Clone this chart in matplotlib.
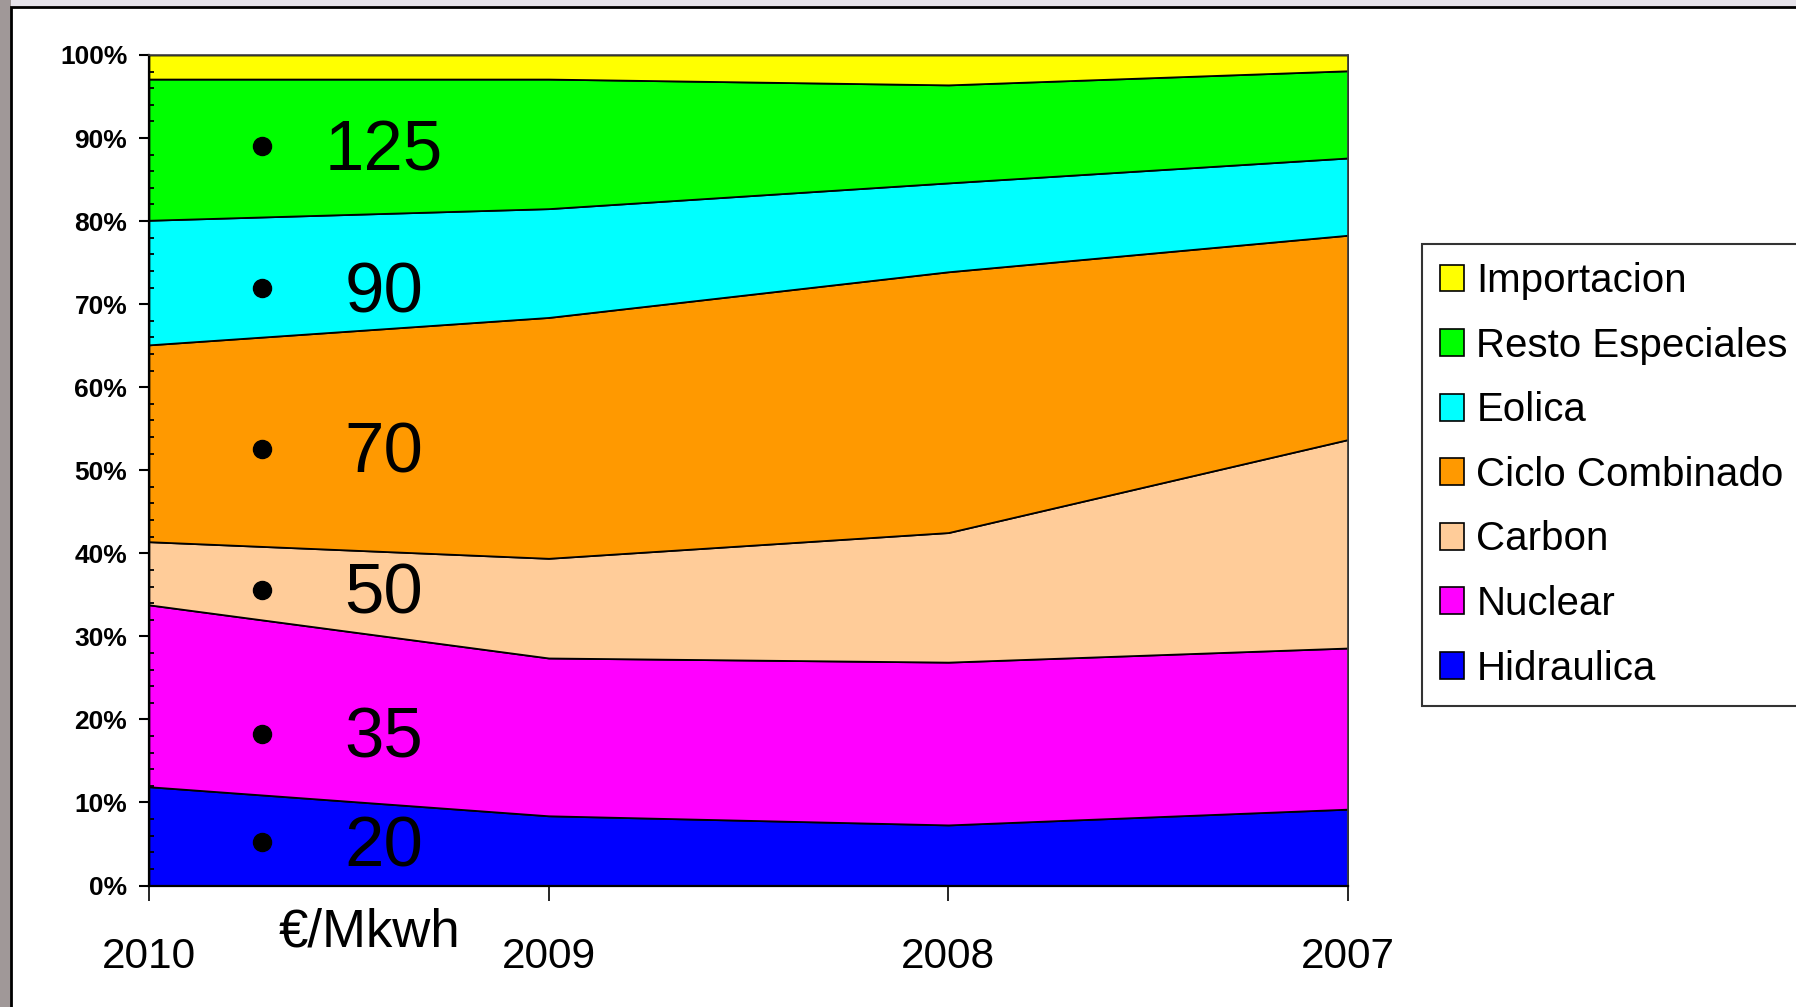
import matplotlib
matplotlib.use("Agg")
import matplotlib.pyplot as plt
from matplotlib.patches import Rectangle
from matplotlib.ticker import MultipleLocator, FuncFormatter

plt.rcParams['font.family'] = ['Liberation Sans', 'DejaVu Sans']

years = ['2010', '2009', '2008', '2007']
series_names = ['Hidraulica', 'Nuclear', 'Carbon', 'Ciclo Combinado',
                'Eolica', 'Resto Especiales', 'Importacion']
hidraulica = [11.9, 8.4, 7.3, 9.2]
nuclear = [21.9, 19.0, 19.6, 19.4]
carbon = [7.6, 12.0, 15.6, 25.1]
ciclo = [23.7, 29.0, 31.4, 24.6]
eolica = [15.0, 13.1, 10.7, 9.3]
resto = [17.0, 15.6, 11.8, 10.5]
importacion = [2.9, 2.9, 3.6, 1.9]
colors = ['#0000FF', '#FF00FF', '#FFCC99', '#FF9900', '#00FFFF', '#00FF00', '#FFFF00']

price_labels = ['125', '90', '70', '50', '35', '20']
price_ypos = [0.883, 0.712, 0.519, 0.349, 0.176, 0.045]
bullet_ypos = [0.89, 0.719, 0.526, 0.356, 0.183, 0.052]

W, H = 1796, 1007
fig = plt.figure(figsize=(W / 100, H / 100), dpi=100)
fig.patch.set_facecolor('#e6e3ea')
fig.patches.append(Rectangle((0, 0), 0.0064, 1, transform=fig.transFigure,
                             facecolor='#a09898', edgecolor='none', zorder=-10))
fig.patches.append(Rectangle((0.0064, -0.01), 1.0, 0.993 + 0.01, transform=fig.transFigure,
                             facecolor='white', edgecolor='black', linewidth=2, zorder=-10))

ax = fig.add_axes([0.0829, 0.1206, 0.6677, 0.8248])
x = list(range(len(years)))
data = [hidraulica, nuclear, carbon, ciclo, eolica, resto, importacion]
polys = ax.stackplot(x, *data, colors=colors, labels=series_names,
                     edgecolor='black', linewidth=1.3)
ax.set_xlim(0, len(years) - 1)
ax.set_ylim(0, 100)
ax.set_facecolor('white')

for s in ['top', 'right']:
    ax.spines[s].set_color('#404040')
    ax.spines[s].set_linewidth(1.2)
for s in ['left', 'bottom']:
    ax.spines[s].set_color('black')
    ax.spines[s].set_linewidth(1.6)

ax.yaxis.set_major_locator(MultipleLocator(10))
ax.yaxis.set_minor_locator(MultipleLocator(2))
ax.yaxis.set_major_formatter(FuncFormatter(lambda v, p: f"{int(round(v))}%"))
ax.tick_params(axis='y', which='major', direction='out', length=7.5, width=1.5,
               labelsize=19, pad=8)
ax.tick_params(axis='y', which='minor', direction='in', length=3.8, width=1.3)
for lbl in ax.get_yticklabels():
    lbl.set_fontweight('bold')

ax.set_xticks(x)
ax.set_xticklabels(years)
ax.tick_params(axis='x', which='major', direction='out', length=11, width=1.2,
               labelsize=30.5, pad=26)

for lab, yp, yb in zip(price_labels, price_ypos, bullet_ypos):
    ax.plot([0.0946], [yb], 'o', color='black', markersize=13,
            transform=ax.transAxes, clip_on=False, zorder=5)
    ax.text(0.196, yp, lab, transform=ax.transAxes, ha='center', va='center',
            fontsize=51, color='black', zorder=5)

fig.text(0.2054, 0.074, '€/Mkwh', ha='center', va='center', fontsize=38, color='black')

handles, labels = ax.get_legend_handles_labels()
leg = fig.legend(handles[::-1], labels[::-1], loc='upper left',
                 bbox_to_anchor=(1422 / W, 1 - 244 / H), bbox_transform=fig.transFigure,
                 prop={'size': 29}, frameon=True, fancybox=False, shadow=False,
                 borderaxespad=0, borderpad=0.45, labelspacing=0.66,
                 handlelength=0.6, handleheight=0.65, handletextpad=0.3)
leg.get_frame().set_edgecolor('black')
leg.get_frame().set_linewidth(1.5)
for p in leg.get_patches():
    p.set_edgecolor('black')
    p.set_linewidth(1.2)

fig.savefig('out.png', dpi=100, facecolor=fig.get_facecolor())
